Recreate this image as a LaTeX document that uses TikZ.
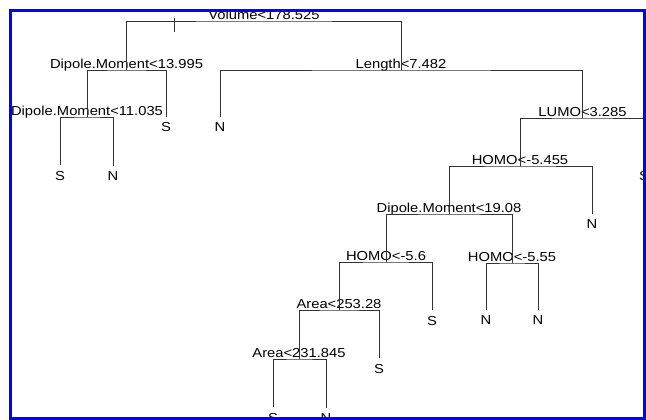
\documentclass[tikz,border=0pt]{standalone}
\usepackage{fontspec}
\setmainfont{Liberation Sans}[FakeStretch=1.135]
\definecolor{rblue}{rgb}{0,0,1}
\definecolor{rline}{rgb}{0.2,0.2,0.2}

\begin{document}
\begin{tikzpicture}[x=1pt,y=-1pt,
  split/.style={anchor=base,yshift=1.5pt,inner sep=0pt,font=\fontsize{13}{13}\selectfont},
  leaf/.style={inner xsep=0pt,inner ysep=5.8pt,font=\fontsize{13}{13}\selectfont},
  branch/.style={rline,line width=0.9pt}]
\useasboundingbox (0,0) rectangle (646,420);
\begin{scope}
\clip (10.5,10.5) rectangle (644.5,418.5);
% split points
\coordinate (vol) at (264,21);
\coordinate (dm1) at (126.5,70);
\coordinate (len) at (401,70);
\coordinate (dm2) at (87,117);
\coordinate (lumo) at (582.5,118);
\coordinate (homo1) at (520,166);
\coordinate (dm3) at (449,214);
\coordinate (homo2) at (386,262);
\coordinate (homo3) at (512,263);
\coordinate (area1) at (339,310);
\coordinate (area2) at (299,359);
\coordinate (mark) at (174,18);

\node[split] (vol-t) at (vol) {Volume<178.525};
\node[split] (dm1-t) at (dm1) {Dipole.Moment<13.995};
\node[split] (len-t) at (len) {Length<7.482};
\node[split] (dm2-t) at (dm2) {Dipole.Moment<11.035};
\node[split] (lumo-t) at (lumo) {LUMO<3.285};
\node[split] (homo1-t) at (homo1) {HOMO<-5.455};
\node[split] (dm3-t) at (dm3) {Dipole.Moment<19.08};
\node[split] (homo2-t) at (homo2) {HOMO<-5.6};
\node[split] (homo3-t) at (homo3) {HOMO<-5.55};
\node[split] (area1-t) at (area1) {Area<253.28};
\node[split] (area2-t) at (area2) {Area<231.845};

% leaves
\foreach \n/\x/\y/\t in {s1/166/127.5/S, n1/220/127.5/N, s2/60/176/S, n2/113/176/N,
  s3/644/176/S, n3/592/224/N, s4/432/321/S, n4/486/320.5/N, n5/538/320.5/N,
  s5/379/369/S, s6/273/418/S, n6/326/418/N} {
  \node[leaf] (\n) at (\x,\y) {\t};
}

\draw[branch] (mark) -- ++(0,14);
\draw[branch] (dm1) |- (vol) -| (len);
\draw[branch] (dm2) |- (dm1) -| (s1.north);
\draw[branch] (s2.north) |- (dm2) -| (n2.north);
\draw[branch] (n1.north) |- (len) -| (lumo);
\draw[branch] (homo1) |- (lumo) -| (s3.north);
\draw[branch] (dm3) |- (homo1) -| (n3.north);
\draw[branch] (homo2) |- (dm3) -| (homo3);
\draw[branch] (area1) |- (homo2) -| (s4.north);
\draw[branch] (n4.north) |- (homo3) -| (n5.north);
\draw[branch] (area2) |- (area1) -| (s5.north);
\draw[branch] (s6.north) |- (area2) -| (n6.north);
\end{scope}
\draw[rblue,line width=3.5pt] (10.5,10.5) rectangle (644.5,418.5);
\end{tikzpicture}
\end{document}
